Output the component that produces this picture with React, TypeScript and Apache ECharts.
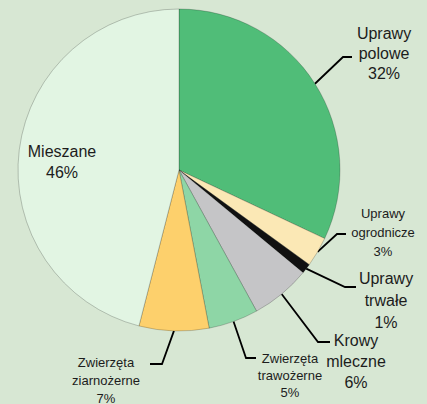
import React, { useEffect, useRef } from "react";
import * as echarts from "echarts";

const categories = [
  "Uprawy polowe",
  "Uprawy ogrodnicze",
  "Uprawy trwałe",
  "Krowy mleczne",
  "Zwierzęta trawożerne",
  "Zwierzęta ziarnożerne",
  "Mieszane",
];
const values = [32, 3, 1, 6, 5, 7, 46];

const colors = ["#50bd78", "#fbe8b5", "#111111", "#c5c5c7", "#8ed6a6", "#fdd06c", "#e2f5e3"];
const fontSizes = [16, 13, 16, 16, 13, 13, 16];
const lineHeights = [20, 19, 22, 21, 17, 18, 21];
// label anchor (center) and leader-line elbow/end per slice
const labelPos = [
  { x: 384, y: 53, elbow: [343, 57], end: [352, 57] },
  { x: 383, y: 232, elbow: [337, 234], end: [346, 234] },
  { x: 386, y: 300, elbow: [345, 287], end: [356, 287] },
  { x: 356, y: 361, elbow: [318, 342], end: [330, 342] },
  { x: 290, y: 375, elbow: [246, 358], end: [256, 358] },
  { x: 106, y: 380, elbow: [162, 364], end: [150, 364] },
  { x: 62, y: 162, elbow: null, end: null },
];

const FONT = "'Liberation Sans Narrow', 'Arial Narrow', 'Liberation Sans', Arial, sans-serif";

export default function App() {
  const ref = useRef<HTMLDivElement>(null);
  useEffect(() => {
    if (!ref.current) return;
    const chart = echarts.init(ref.current, null, { renderer: "svg" });
    chart.setOption({
      animation: false,
      backgroundColor: "#d7e7d3",
      series: [
        {
          type: "pie",
          center: [179, 170],
          radius: [0, 161],
          startAngle: 90,
          clockwise: true,
          avoidLabelOverlap: false,
          itemStyle: { borderColor: "rgba(0,0,0,0.35)", borderWidth: 0.6 },
          label: {
            show: true,
            position: "outside",
            color: "#1c1c1c",
            fontFamily: FONT,
            align: "center",
            formatter: (p: any) => p.name.split(" ").join("\n") + "\n" + p.value + "%",
          },
          labelLine: {
            show: true,
            length: 10,
            length2: 10,
            lineStyle: { color: "#000", width: 1.8 },
          },
          labelLayout: (p: any) => {
            const lp = labelPos[p.dataIndex];
            const out: any = { x: lp.x, y: lp.y, align: "center", verticalAlign: "middle" };
            if (lp.elbow && p.labelLinePoints) {
              out.labelLinePoints = [p.labelLinePoints[0], lp.elbow, lp.end];
            }
            return out;
          },
          data: categories.map((name, i) => ({
            name,
            value: values[i],
            itemStyle: { color: colors[i] },
            label: { fontSize: fontSizes[i], lineHeight: lineHeights[i] },
            labelLine: { show: i !== 6 },
          })),
        },
      ],
    });
    return () => chart.dispose();
  }, []);
  return (
    <div
      ref={ref}
      style={{ position: "absolute", left: 0, top: 0, width: 427, height: 404 }}
    />
  );
}
